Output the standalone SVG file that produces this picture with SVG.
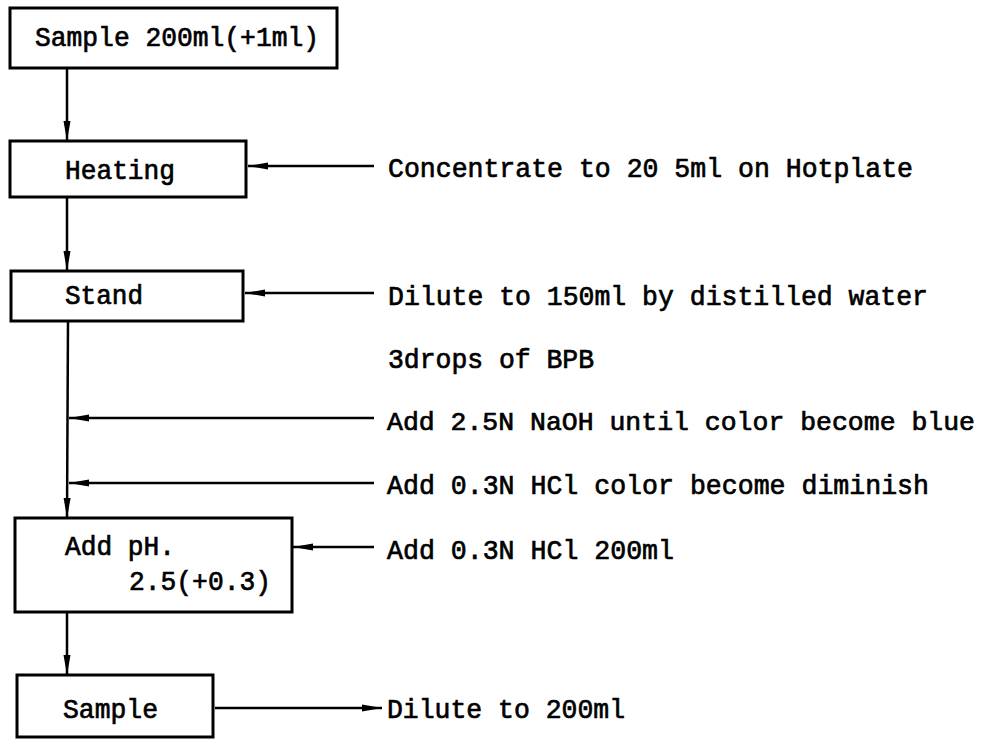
<svg xmlns="http://www.w3.org/2000/svg" width="986" height="739" viewBox="0 0 986 739">
<style>
.box{fill:#fff;stroke:#000;stroke-width:3}
.ln{fill:none;stroke:#000;stroke-width:2.5}
text{font-family:"Liberation Mono","DejaVu Sans Mono",monospace;font-size:28px;fill:#000;stroke:#000;stroke-width:0.7}
text.sm{font-size:26.5px}
</style>
<defs>
<marker id="ah" viewBox="0 0 20 10" refX="20" refY="5" markerWidth="20" markerHeight="10" markerUnits="userSpaceOnUse" orient="auto">
<path d="M0,1.5 L20,5 L0,8.5 Z" fill="#000"/>
</marker>
</defs>
<rect width="986" height="739" fill="#fff"/>
<g id="connectors">
<line class="ln" x1="67" y1="68" x2="67" y2="141" marker-end="url(#ah)"/>
<line class="ln" x1="67" y1="197" x2="67" y2="271" marker-end="url(#ah)"/>
<line class="ln" x1="68" y1="321" x2="67" y2="518" marker-end="url(#ah)"/>
<line class="ln" x1="67" y1="612" x2="67" y2="675" marker-end="url(#ah)"/>
<line class="ln" x1="374" y1="166" x2="248" y2="166" marker-end="url(#ah)"/>
<line class="ln" x1="374" y1="293" x2="245" y2="293" marker-end="url(#ah)"/>
<line class="ln" x1="374" y1="418" x2="69" y2="418" marker-end="url(#ah)"/>
<line class="ln" x1="374" y1="483" x2="69" y2="483" marker-end="url(#ah)"/>
<line class="ln" x1="374" y1="547" x2="293" y2="547" marker-end="url(#ah)"/>
<line class="ln" x1="215" y1="708" x2="382" y2="708" marker-end="url(#ah)"/>
</g>
<g id="n1"><rect class="box" x="10" y="8" width="327" height="60"/><text x="35" y="46" textLength="284" lengthAdjust="spacingAndGlyphs">Sample 200ml(+1ml)</text></g>
<g id="n2"><rect class="box" x="10" y="141" width="236" height="56"/><text x="65" y="179" textLength="110" lengthAdjust="spacingAndGlyphs">Heating</text></g>
<g id="n3"><rect class="box" x="11" y="271" width="232" height="50"/><text x="65" y="304" textLength="78" lengthAdjust="spacingAndGlyphs">Stand</text></g>
<g id="n4"><rect class="box" x="15" y="518" width="277" height="94"/><text x="65" y="555" textLength="110" lengthAdjust="spacingAndGlyphs">Add pH.</text><text x="129" y="590" textLength="142" lengthAdjust="spacingAndGlyphs">2.5(+0.3)</text></g>
<g id="n5"><rect class="box" x="17" y="675" width="196" height="62"/><text x="63" y="718" textLength="95" lengthAdjust="spacingAndGlyphs">Sample</text></g>
<g id="labels">
<text x="388" y="177" textLength="525" lengthAdjust="spacingAndGlyphs">Concentrate to 20 5ml on Hotplate</text>
<text x="388" y="305" textLength="540" lengthAdjust="spacingAndGlyphs">Dilute to 150ml by distilled water</text>
<text x="388" y="368" textLength="206" lengthAdjust="spacingAndGlyphs">3drops of BPB</text>
<text class="sm" x="387" y="430" textLength="588" lengthAdjust="spacingAndGlyphs">Add 2.5N NaOH until color become blue</text>
<text x="387" y="494" textLength="542" lengthAdjust="spacingAndGlyphs">Add 0.3N HCl color become diminish</text>
<text x="387" y="559" textLength="287" lengthAdjust="spacingAndGlyphs">Add 0.3N HCl 200ml</text>
<text x="387" y="718" textLength="238" lengthAdjust="spacingAndGlyphs">Dilute to 200ml</text>
</g>
</svg>
